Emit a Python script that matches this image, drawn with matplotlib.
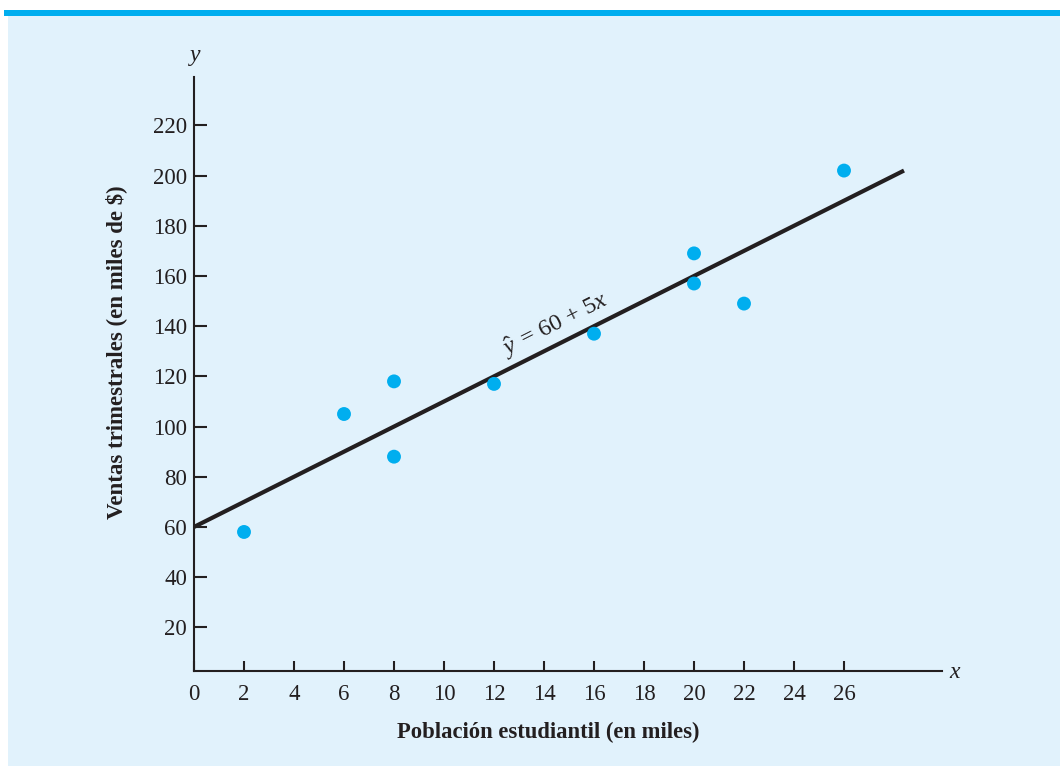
import matplotlib
matplotlib.use("Agg")
import matplotlib.pyplot as plt
from matplotlib.patches import Rectangle

plt.rcParams['font.family'] = ['Liberation Serif', 'DejaVu Serif']
plt.rcParams['mathtext.fontset'] = 'custom'
plt.rcParams['mathtext.rm'] = 'Liberation Serif'
plt.rcParams['mathtext.it'] = 'Liberation Serif:italic'

# Student population (thousands) vs quarterly sales (thousands of $)
poblacion = [2, 6, 8, 8, 12, 16, 20, 20, 22, 26]
ventas = [58, 105, 88, 118, 117, 137, 157, 169, 149, 202]

# Estimated regression line  y^ = b0 + b1 x
b0, b1 = 60, 5
x_line_end = 28.4

x_ticks = list(range(0, 27, 2))
y_ticks = list(range(20, 221, 20))

INK = '#231F20'
DOT = '#00AEEF'
PANEL = '#E1F2FC'

W, H = 1060, 766
fig = plt.figure(figsize=(W / 100, H / 100), dpi=100)
fig.patch.set_facecolor('white')

# background panel and top bar
fig.add_artist(Rectangle((8 / W, 0), 1 - 8 / W, 1 - 16 / H, transform=fig.transFigure,
                         facecolor=PANEL, edgecolor='none', zorder=0))
fig.add_artist(Rectangle((4 / W, 1 - 16 / H), 1 - 4 / W, 6 / H, transform=fig.transFigure,
                         facecolor=DOT, edgecolor='none', zorder=0))

x0, x1 = 194, 941.5
y0, y1 = 671, 76.7
ax = fig.add_axes([x0 / W, 1 - y0 / H, (x1 - x0) / W, (y0 - y1) / H])
ax.set_facecolor('none')
ax.set_xlim(0, 29.9)
ax.set_ylim(2.6, 239.4)

for s in ['top', 'right']:
    ax.spines[s].set_visible(False)
for s in ['left', 'bottom']:
    ax.spines[s].set_color(INK)
    ax.spines[s].set_linewidth(1.5)

ax.set_xticks(x_ticks)
ax.set_yticks(y_ticks)
ax.tick_params(axis='both', direction='in', colors=INK, width=1.5, labelsize=16.5)
ax.tick_params(axis='y', length=9, pad=5)
ax.tick_params(axis='x', length=7, pad=9)

ax.scatter(poblacion, ventas, s=100, color=DOT, edgecolors='none', zorder=3, clip_on=False)
ax.plot([0, x_line_end], [b0, b0 + b1 * x_line_end], color=INK, lw=3,
        solid_capstyle='butt', zorder=2, clip_on=False)

ax.text(14.44, 140.5, r'$\hat{y}\,$ = 60 + 5$x$', rotation=26.7, rotation_mode='anchor',
        ha='center', va='center', fontsize=17.5, color=INK)

ax.set_xlabel('Población estudiantil (en miles)', fontsize=16.3, fontweight='bold',
              color=INK, labelpad=14)
ax.set_ylabel('Ventas trimestrales (en miles de $)', fontsize=16.5, fontweight='bold',
              color=INK, labelpad=14)
ax.xaxis.set_label_coords((548 - x0) / (x1 - x0), (y0 - 722) / (y0 - y1))
ax.yaxis.set_label_coords((127 - x0) / (x1 - x0), (y0 - 352) / (y0 - y1))

fig.text(955 / W, 1 - 672 / H, r'$x$', fontsize=17, ha='center', va='center', color=INK)
fig.text(195 / W, 1 - 58 / H, r'$y$', fontsize=17, ha='center', va='center', color=INK)

fig.savefig('out.png', dpi=100, facecolor=fig.get_facecolor())
